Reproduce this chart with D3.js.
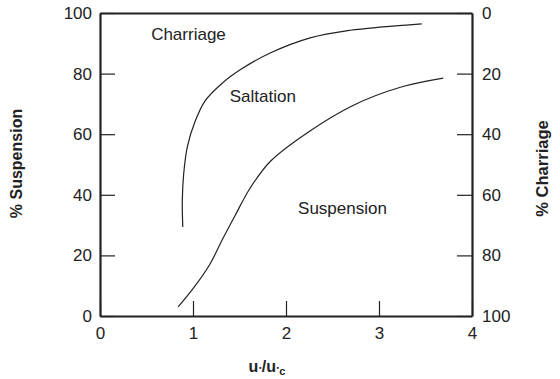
<!DOCTYPE html>
<html>
<head>
<meta charset="utf-8">
<script src="https://cdn.jsdelivr.net/npm/d3@7"></script>
<style>
  body { margin: 0; background: #fff; }
  svg text { font-family: "Liberation Sans", Arial, sans-serif; fill: #222; }
</style>
</head>
<body>
<svg class="chart" width="560" height="379"></svg>
<script>
// Tick values
const xTicks = [0, 1, 2, 3, 4];
const yTicks = [0, 20, 40, 60, 80, 100];

// Boundary between charriage and saltation (u*/u*c, % suspension)
const saltationX = [0.89, 0.885, 0.9, 0.94, 1.02, 1.13, 1.32, 1.52, 1.83, 2.26, 2.69, 3.04, 3.46];
const saltationY = [29.4, 38, 47, 56, 64, 71, 77, 81.5, 86.8, 91.8, 94.3, 95.4, 96.4];

// Boundary between saltation and suspension
const suspensionX = [0.84, 1.0, 1.18, 1.32, 1.45, 1.61, 1.83, 2.23, 2.72, 3.23, 3.69];
const suspensionY = [3.0, 9, 17, 25.5, 33, 42, 51, 60.5, 69.5, 75.5, 78.5];

// Region labels
const regions = [
  { name: 'Charriage', x: 0.55, y: 91 },
  { name: 'Saltation', x: 1.395, y: 70.5 },
  { name: 'Suspension', x: 2.13, y: 33.5 }
];

const margin = { top: 13, right: 88, bottom: 63, left: 100 };
const width = 560 - margin.left - margin.right;
const height = 379 - margin.top - margin.bottom;

const xScale = d3.scaleLinear().domain([0, 4]).range([0, width]);
const yScale = d3.scaleLinear().domain([0, 100]).range([height, 0]);
const yScale2 = d3.scaleLinear().domain([0, 100]).range([0, height]);

const chart = d3.select('.chart')
  .append('g')
  .attr('transform', `translate(${margin.left},${margin.top})`);

// Axes, ticks point inward
const xAxis = d3.axisBottom(xScale).tickValues(xTicks).tickSizeInner(-15).tickSizeOuter(0).tickPadding(11).tickFormat(d3.format('d'));
const yAxis = d3.axisLeft(yScale).tickValues(yTicks).tickSizeInner(-15).tickSizeOuter(0).tickPadding(8);
const yAxis2 = d3.axisRight(yScale2).tickValues(yTicks).tickSizeInner(-15).tickSizeOuter(0).tickPadding(10);
const topAxis = d3.axisTop(xScale).tickValues([]).tickSizeOuter(0);

chart.append('g').attr('class', 'axis').attr('transform', `translate(0,${height})`).call(xAxis);
chart.append('g').attr('class', 'axis').call(yAxis);
chart.append('g').attr('class', 'axis').attr('transform', `translate(${width},0)`).call(yAxis2);
chart.append('g').attr('class', 'axis').call(topAxis);

chart.selectAll('.axis path').attr('stroke', '#222').attr('stroke-width', 2.2);
chart.selectAll('.axis line').attr('stroke', '#222').attr('stroke-width', 1.2);
chart.selectAll('.axis text').attr('font-size', 17).attr('fill', '#222')
  .style('font-family', '"Liberation Sans", Arial, sans-serif');

// Curves
const line = d3.line()
  .curve(d3.curveCatmullRom.alpha(0.5))
  .x(d => xScale(d[0]))
  .y(d => yScale(d[1]));

const curves = [
  d3.zip(saltationX, saltationY),
  d3.zip(suspensionX, suspensionY)
];

chart.selectAll('.curve')
  .data(curves)
  .enter()
  .append('path')
  .attr('class', 'curve')
  .attr('d', line)
  .attr('fill', 'none')
  .attr('stroke', '#222')
  .attr('stroke-width', 1.2);

// Region labels
chart.selectAll('.region')
  .data(regions)
  .enter()
  .append('text')
  .attr('class', 'region')
  .attr('x', d => xScale(d.x))
  .attr('y', d => yScale(d.y))
  .attr('font-size', 17)
  .text(d => d.name);

// Axis titles
chart.append('text')
  .attr('transform', `translate(${-78},${height / 2 - 1}) rotate(-90)`)
  .attr('text-anchor', 'middle')
  .attr('font-size', 16)
  .attr('font-weight', 'bold')
  .text('% Suspension');

chart.append('text')
  .attr('transform', `translate(${width + 76},${height / 2 + 4}) rotate(-90)`)
  .attr('text-anchor', 'middle')
  .attr('font-size', 16.5)
  .attr('font-weight', 'bold')
  .text('% Charriage');

const xTitle = chart.append('text')
  .attr('x', xScale(2) - 19)
  .attr('y', height + 56)
  .attr('text-anchor', 'middle')
  .attr('font-size', 16)
  .attr('font-weight', 'bold');
xTitle.append('tspan').text('u');
xTitle.append('tspan').attr('font-size', 12).text('\u2219');
xTitle.append('tspan').text('/u');
xTitle.append('tspan').attr('font-size', 12).text('\u2219');
xTitle.append('tspan').attr('font-size', 11).attr('dy', 3).text('c');
</script>
</body>
</html>
